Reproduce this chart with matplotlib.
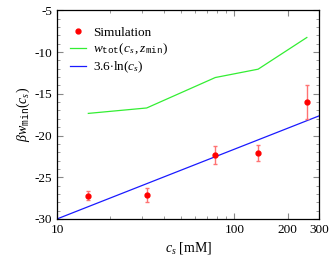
import matplotlib
matplotlib.use('Agg')
import matplotlib.pyplot as plt
from matplotlib.lines import Line2D
from matplotlib.ticker import FixedLocator, FixedFormatter, MultipleLocator, NullFormatter

plt.rcParams['font.family'] = ['Liberation Serif', 'DejaVu Serif']
plt.rcParams['mathtext.fontset'] = 'custom'
plt.rcParams['mathtext.rm'] = 'Liberation Serif'
plt.rcParams['mathtext.it'] = 'Liberation Serif:italic'
plt.rcParams['mathtext.tt'] = 'Liberation Mono'

# simulation points
cs_sim = [15, 32, 78, 136, 256]
w_sim = [-27.2, -27.1, -22.3, -22.1, -16.0]
w_err = [0.5, 0.85, 1.1, 1.0, 2.0]

# w_tot(c_s, z_min)
cs_tot = [15, 32, 78, 136, 256]
w_tot = [-17.35, -16.7, -13.05, -12.05, -8.25]

# 3.6 ln(c_s) fit, endpoints
cs_fit = [10, 300]
w_fit = [-30.0, -17.65]

x_ticks = [10, 100, 200, 300]
x_labels = ['10', '100', '200', '300']
y_ticks = [-30, -25, -20, -15, -10, -5]

fig = plt.figure(figsize=(3.32, 2.66), dpi=100)
ax = fig.add_axes([0.172, 0.177, 0.789, 0.784])

ax.errorbar(cs_sim, w_sim, yerr=w_err, fmt='none',
            ecolor=(1, 0.45, 0.45), elinewidth=1.0, capsize=1.5, capthick=1.0,
            zorder=3)
ax.plot(cs_sim, w_sim, 'o', color='red', ms=3.5, zorder=4)
ax.plot(cs_tot, w_tot, color='#33ee33', lw=0.9)
ax.plot(cs_fit, w_fit, color='#1a1aff', lw=0.9)

handles = [
    Line2D([], [], ls='none', marker='o', color='red', ms=3.5),
    Line2D([], [], color='#33ee33', lw=0.9),
    Line2D([], [], color='#1a1aff', lw=0.9),
]
labels = ['Simulation',
          r'$w_{\mathtt{tot}}(c_s\,,z_{\mathtt{min}})$',
          r'3.6$\cdot$ln($c_s$)']

ax.set_xscale('log')
ax.set_xlim(10, 300)
ax.set_ylim(-30, -5)
ax.xaxis.set_major_locator(FixedLocator(x_ticks))
ax.xaxis.set_major_formatter(FixedFormatter(x_labels))
ax.xaxis.set_minor_locator(FixedLocator([20, 30, 40, 50, 60, 70, 80, 90]))
ax.xaxis.set_minor_formatter(NullFormatter())
ax.set_yticks(y_ticks)
ax.set_yticklabels([str(v) for v in y_ticks])
ax.yaxis.set_minor_locator(MultipleLocator(1))

ax.tick_params(which='both', direction='in', top=True, right=True,
               color='#888888', labelsize=9.5)
ax.tick_params(which='major', length=4.5, width=0.8)
ax.tick_params(which='minor', length=2.5, width=0.6)
for s in ax.spines.values():
    s.set_linewidth(0.9)

ax.set_xlabel(r'$c_s$ [mM]', fontsize=10, labelpad=3)
ax.set_ylabel(r'$\beta w_{\mathtt{min}}(c_s)$', fontsize=10, labelpad=2)

ax.legend(handles, labels, loc='upper left', frameon=False, fontsize=9.5,
          handlelength=1.2, handletextpad=0.55, labelspacing=0.2,
          borderaxespad=0.6, bbox_to_anchor=(0.0, 0.985))

fig.savefig('out.png', dpi=100)
